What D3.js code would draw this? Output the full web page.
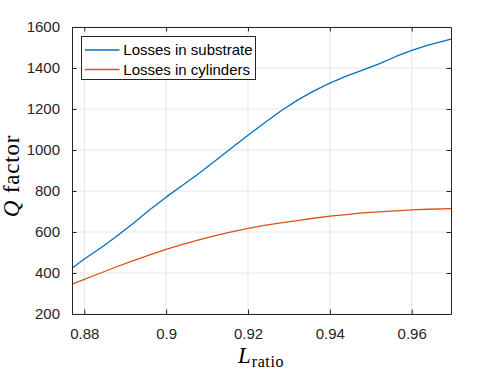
<!DOCTYPE html>
<html>
<head>
<meta charset="utf-8">
<script src="https://cdn.jsdelivr.net/npm/d3@7"></script>
<style>
  html, body { margin: 0; padding: 0; background: #fff; }
  svg { display: block; }
</style>
</head>
<body>
<svg id="chart" width="498" height="374"></svg>
<script>
// ---- data ----
const lRatio = [0.877, 0.880, 0.884, 0.8876, 0.892, 0.896, 0.900, 0.904, 0.908, 0.912, 0.916, 0.920,
                0.924, 0.928, 0.932, 0.936, 0.940, 0.944, 0.948, 0.952, 0.956, 0.960, 0.964, 0.9696];
const qSubstrate = [423, 468, 522, 574, 643, 708, 770, 828, 885, 948, 1010, 1072,
                    1132, 1190, 1242, 1287, 1326, 1360, 1390, 1420, 1455, 1486, 1512, 1541];
const qCylinders = [346, 369, 400, 428, 460, 488, 515, 540, 562, 582, 601, 618,
                    632, 645, 656, 667, 677, 685, 693, 698, 703, 708, 711, 714];
const seriesNames = ["Losses in substrate", "Losses in cylinders"];
const xTicks = [0.88, 0.90, 0.92, 0.94, 0.96];
const xTickLabels = ["0.88", "0.9", "0.92", "0.94", "0.96"];
const yTicks = [200, 400, 600, 800, 1000, 1200, 1400, 1600];

// ---- layout ----
const svg = d3.select("#chart");
const L = 72, R = 451, T = 27, B = 314;
const axisColor = "#262626";
const colors = ["#0072BD", "#D95319"];

const x = d3.scaleLinear().domain([d3.min(lRatio), d3.max(lRatio)]).range([L, R]);
const y = d3.scaleLinear().domain([200, 1600]).range([B, T]);

// grid
const grid = svg.append("g");
grid.selectAll("line.gx").data(xTicks).join("line")
  .attr("x1", d => x(d)).attr("x2", d => x(d)).attr("y1", T).attr("y2", B)
  .attr("stroke", "#e6e6e6").attr("stroke-width", 1);
grid.selectAll("line.gy").data(yTicks).join("line")
  .attr("y1", d => y(d)).attr("y2", d => y(d)).attr("x1", L).attr("x2", R)
  .attr("stroke", "#e6e6e6").attr("stroke-width", 1);

// data lines
const series = [qSubstrate, qCylinders];
const lineGen = d3.line().x((d, i) => x(lRatio[i])).y(d => y(d));
series.forEach((s, k) => {
  svg.append("path").datum(s).attr("d", lineGen)
    .attr("fill", "none").attr("stroke", colors[k]).attr("stroke-width", 1.3)
    .attr("stroke-linejoin", "round");
});

// axes with inward ticks
const tickLen = 4.5;
const fontTick = "15px 'Liberation Sans', Arial, Helvetica, sans-serif";
const axB = d3.axisBottom(x).tickValues(xTicks).tickSizeInner(-tickLen).tickSizeOuter(0)
  .tickPadding(14).tickFormat((d, i) => xTickLabels[i]);
const axT = d3.axisTop(x).tickValues(xTicks).tickSizeInner(-tickLen).tickSizeOuter(0).tickFormat("");
const axLft = d3.axisLeft(y).tickValues(yTicks).tickSizeInner(-tickLen).tickSizeOuter(0)
  .tickPadding(12).tickFormat(d3.format("d"));
const axRt = d3.axisRight(y).tickValues(yTicks).tickSizeInner(-tickLen).tickSizeOuter(0).tickFormat("");

function style(g) {
  g.select(".domain").attr("stroke", axisColor).attr("stroke-width", 1);
  g.selectAll(".tick line").attr("stroke", axisColor).attr("stroke-width", 1);
  g.selectAll(".tick text").attr("fill", axisColor).style("font", fontTick);
}
svg.append("g").attr("transform", `translate(0,${B})`).call(axB).call(style);
svg.append("g").attr("transform", `translate(0,${T})`).call(axT).call(style);
svg.append("g").attr("transform", `translate(${L},0)`).call(axLft).call(style);
svg.append("g").attr("transform", `translate(${R},0)`).call(axRt).call(style);

// legend
const lg = svg.append("g");
lg.append("rect").attr("x", 81.5).attr("y", 36.5).attr("width", 174).attr("height", 43)
  .attr("fill", "#fff").attr("stroke", axisColor).attr("stroke-width", 1);
seriesNames.forEach((name, k) => {
  const cy = 50 + k * 19.5;
  lg.append("line").attr("x1", 85).attr("x2", 119.5).attr("y1", cy).attr("y2", cy)
    .attr("stroke", colors[k]).attr("stroke-width", 1.3);
  lg.append("text").attr("x", 123.3).attr("y", cy).attr("dy", "0.35em")
    .attr("fill", "#000").style("font", fontTick).text(name);
});

// axis labels (LaTeX-like)
const serif = "'Liberation Serif', 'Times New Roman', serif";
const xl = svg.append("text").attr("x", 261).attr("y", 363).attr("text-anchor", "middle")
  .attr("fill", "#000").style("font-family", serif);
xl.append("tspan").attr("font-style", "italic").attr("font-size", 23).text("L");
xl.append("tspan").attr("font-size", 16).attr("dy", 4).attr("dx", 1).attr("letter-spacing", 0.6)
  .style("font-family", serif).text("ratio");

const yl = svg.append("text").attr("transform", "translate(19,176) rotate(-90)")
  .attr("text-anchor", "middle").attr("fill", "#000").style("font-family", serif)
  .attr("font-size", 23).attr("letter-spacing", 0.8);
yl.append("tspan").attr("font-style", "italic").text("Q");
yl.append("tspan").text(" factor");
</script>
</body>
</html>
